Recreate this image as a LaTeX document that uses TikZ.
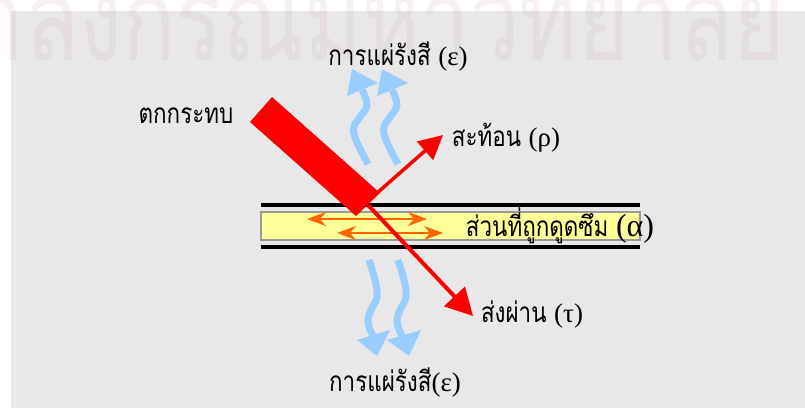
\documentclass[tikz,border=0pt]{standalone}
\usepackage{fontspec}
\newfontfamily\thai[Script=Thai, FakeStretch=0.8]{Loma}
\newfontfamily\wmfont[Script=Thai, FakeStretch=0.76]{Loma}
\newfontfamily\grk{Liberation Serif}
\usetikzlibrary{arrows.meta}
\definecolor{bggray}{HTML}{E8E8E8}
\definecolor{wmgray}{HTML}{E3DCE1}
\definecolor{wmwhite}{HTML}{F6F0F4}
\definecolor{heatblue}{HTML}{99CCFF}
\definecolor{layeryellow}{HTML}{FFFF99}
\definecolor{layeredge}{HTML}{999999}
\definecolor{orangearr}{HTML}{FF6600}
\newcommand{\gk}[1]{{\grk\fontsize{27}{27}\selectfont #1}}
\newcommand{\gkbig}[1]{{\grk\fontsize{32}{32}\selectfont #1}}
\tikzset{
  lbl/.style={font=\thai\fontsize{28}{31}\selectfont, text=black, inner sep=0pt},
  wm/.style={font=\wmfont\fontsize{116}{120}\selectfont, inner sep=0pt, anchor=base east},
  heat/.style={draw=heatblue, line width=7pt, line cap=butt},
  heathead/.style={fill=heatblue},
  orangedbl/.style={draw=orangearr, line width=2pt, {Stealth[length=19pt,width=14pt,inset=6pt]}-{Stealth[length=19pt,width=14pt,inset=6pt]}},
  blackline/.style={draw=black, line width=4pt},
}
\begin{document}
\begin{tikzpicture}[x=1pt,y=-1pt]
\useasboundingbox (0,0) rectangle (805,408);
\fill[white] (0,0) rectangle (805,408);
\fill[bggray] (11,11) rectangle (805,408);
% watermark
\begin{scope}
\clip (0,0) rectangle (805,11) (0,0) rectangle (11,408);
\node[wm, text=wmwhite] (wm1) at (785,60) {จุฬาลงกรณ์มหาวิทยาลัย};
\end{scope}
\begin{scope}
\clip (11,11) rectangle (805,408);
\node[wm, text=wmgray] (wm2) at (785,60) {จุฬาลงกรณ์มหาวิทยาลัย};
\end{scope}
% layer
\draw[blackline] (261,205) -- (640,205);
\draw[blackline] (261,247) -- (640,247);
\node[draw=layeredge, fill=layeryellow, line width=1.5pt, minimum width=379pt, minimum height=28pt, inner sep=0pt] (layer) at (450.5,226) {};
% orange arrows
\coordinate (o1a) at (307,219); \coordinate (o1b) at (427,219);
\coordinate (o2a) at (337,233); \coordinate (o2b) at (443,233);
\draw[orangedbl] (o1a) -- (o1b);
\draw[orangedbl] (o2a) -- (o2b);
% heat arrows top
\draw[heat] plot[smooth, tension=0.7] coordinates {(368,164) (356,140) (354,127) (360,117) (367,105) (362,90)};
\fill[heathead] (352,69) -- (347,96) -- (378,83) -- cycle;
\draw[heat] plot[smooth, tension=0.7] coordinates {(398,164) (386,140) (384,127) (390,117) (397,105) (392,90)};
\fill[heathead] (382,69) -- (377,96) -- (408,83) -- cycle;
% heat arrows bottom
\draw[heat] plot[smooth, tension=0.7] coordinates {(369,260) (375,280) (377,297) (371,310) (368,322) (373,336)};
\fill[heathead] (357,340) -- (390,330) -- (377,356) -- cycle;
\draw[heat] plot[smooth, tension=0.7] coordinates {(398,260) (404,280) (406,297) (400,310) (397,322) (402,336)};
\fill[heathead] (387,340) -- (421,330) -- (409,356) -- cycle;
% incident beam
\fill[red] (250,122) -- (272,97) -- (380,193) -- (356,216) -- cycle;
\coordinate (hit) at (368,205);
\coordinate (refl0) at (377,193);
\coordinate (refl) at (443,135);
\coordinate (trans) at (473,316);
\draw[red, line width=4pt, -{Triangle[length=27pt,width=28pt]}] (hit) -- (trans);
\draw[red, line width=3.5pt, -{Triangle[length=24pt,width=24pt]}] (refl0) -- (refl);
% labels
\node[lbl] (inc) at (186,116) {ตกกระทบ};
\node[lbl] (rho) at (506,138) {สะท้อน \gk{(ρ)}};
\node[lbl] (alpha) at (560,226) {ส่วนที่ถูกดูดซึม \gkbig{(α)}};
\node[lbl] (tau) at (532,315) {ส่งผ่าน \gk{(τ)}};
\node[lbl] (emtop) at (398,57) {การแผ่รังสี \gk{(ε)}};
\node[lbl] (embot) at (395,383) {การแผ่รังสี\gk{(ε)}};
\end{tikzpicture}
\end{document}
